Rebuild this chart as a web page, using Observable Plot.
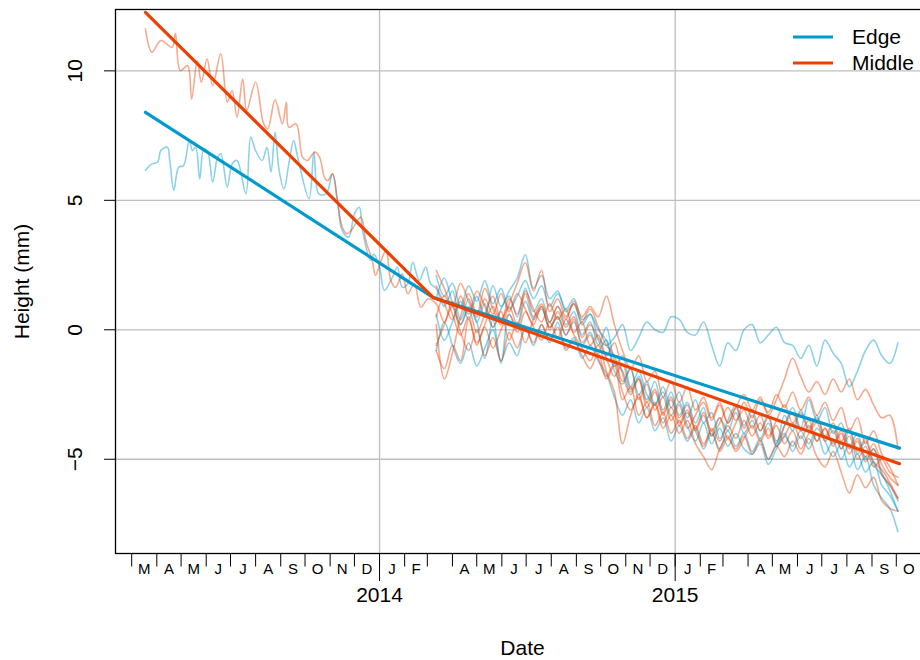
<!DOCTYPE html>
<html><head><meta charset="utf-8">
<script src="https://cdn.jsdelivr.net/npm/d3@7"></script>
<script src="https://cdn.jsdelivr.net/npm/@observablehq/plot@0.6"></script>
<style>
html,body{margin:0;padding:0;overflow:hidden;background:#fff;}
#chart{width:920px;height:660px;overflow:hidden;}
#chart svg{max-width:none !important;}
</style></head><body><div id="chart"></div>
<script>
const FONT = '"Liberation Sans", Arial, Helvetica, sans-serif';
const BLUE = "#009ACD", RED = "#EE4000";

// Days are counted from 2014-01-01
const yTicks = [-5, 0, 5, 10];
const yearLabels = ["2014", "2015"];
const monthLetters = ["M","A","M","J","J","A","S","O","N","D",
  "J","F","","A","M","J","J","A","S","O","N","D",
  "J","F","","A","M","J","J","A","S","O"];
const groups = ["Edge", "Middle"];

// Long series, 2013 part (read at peaks and troughs)
const edgeEarlyDays = [-289,-281,-274,-270,-262,-259,-254,-248,-242,-235,-231,-227,-222,-217,-212,-206,-200,-196,-188,-182,-176,-165,-159,-153,-145,-139,-134,-129,-124,-118,-112,-106,-101,-87,-81,-75,-66,-58,-52,-46,-38,-31,-25,-21,-11,-7,0,6,16,22,28,35,41,49,57,63];
const edgeEarlyValues = [6.16,6.41,6.47,6.92,7.05,6.54,5.38,6.28,6.34,7.31,6.92,7.05,5.83,6.99,6.86,5.70,6.66,6.80,5.51,6.41,6.54,5.25,7.44,6.92,6.54,7.05,6.09,7.63,6.15,5.44,6.41,7.31,6.66,5.06,6.86,5.25,5.25,6.02,4.99,3.83,3.58,4.48,4.73,3.83,2.68,2.93,2.42,1.52,2.03,2.42,1.64,1.78,2.61,1.90,2.42,1.78];
const middleEarlyDays = [-289,-281,-270,-256,-252,-246,-237,-232,-225,-220,-213,-206,-196,-188,-182,-176,-169,-164,-153,-143,-138,-129,-120,-115,-112,-103,-95,-89,-80,-74,-68,-64,-58,-52,-46,-40,-35,-23,-17,-9,-5,2,8,14,20,28,35,43,51,60];
const middleEarlyValues = [11.62,10.72,11.17,10.91,11.45,10.01,10.2,8.92,10.4,9.56,10.46,9.43,10.66,8.79,9.24,8.21,9.69,8.47,9.56,7.95,7.76,8.88,7.95,8.79,7.82,7.95,6.66,6.54,6.86,6.66,5.89,5.76,6.02,4.99,3.96,3.71,3.83,4.35,3.45,2.68,2.10,2.68,3.06,1.9,1.64,2.16,1.39,1.78,0.87,1.2];

// From March 2014, every 10 days
const lateDays = [70,80,90,100,110,120,130,140,150,160,170,180,190,200,210,220,230,240,250,260,270,280,290,300,310,320,330,340,350,360,370,380,390,400,410,420,430,440,450,460,470,480,490,500,510,520,530,540,550,560,570,580,590,600,610,620,630,640];

const edge1Late = [1.6,0.9,1.5,0.4,1.2,0.3,1.0,0.1,0.8,1.3, 0.5,1.6,0.7,1.2,0.3,0.9,0.2,0.7,-0.2,0.3, -0.6,0.1,-1.2,-1.6,-2.4,-1.8,-2.7,-2.0,-3.1,-2.4, -3.3,-2.8,-3.6,-3.0,-4.1,-3.4,-3.9,-3.2,-4.0,-3.5, -4.2,-3.6,-4.4,-3.3,-3.9,-3.1,-3.8,-3.3,-4.2,-3.7, -4.6,-3.9,-4.8,-4.3,-5.2,-5.6,-6.0,-6.6];
const edge2Late = [2.1,1.3,1.8,0.9,1.7,1.1,1.9,1.0,1.6,0.8, 1.3,1.9,1.2,1.7,0.9,1.4,0.8,1.2,0.4,0.6, -0.3,-0.6,-0.3,0.2,-0.8,-0.3,0.3,0.0,-0.1,0.5, 0.4,-0.1,-0.2,0.3,-0.6,-1.4,-0.5,-0.8,0.0,0.2, -0.5,-0.2,0.1,-0.5,-0.6,-1.1,-0.6,-1.4,-0.4,-0.9, -1.3,-2.2,-1.6,-0.8,-0.4,-1.0,-1.3,-0.5];
const edge3Late = [0.6,-0.4,0.3,1.1,0.4,1.3,0.5,1.7,0.9,1.5, 2.0,2.9,1.6,2.1,1.2,1.5,0.7,1.0,0.2,0.6, 0.0,-0.4,-1.4,-1.0,-2.2,-1.6,-2.5,-2.9,-2.2,-3.0, -2.4,-3.4,-2.7,-3.6,-3.2,-4.2,-3.5,-2.9,-3.7,-3.1, -3.9,-3.3,-4.5,-3.7,-3.0,-3.8,-2.7,-3.5,-3.0,-4.0, -3.6,-4.5,-4.0,-5.0,-4.6,-5.5,-6.2,-7.0];
const edge4Late = [-0.8,0.3,-0.6,-1.3,-0.5,-1.4,-0.7,0.0,-1.2,-0.5, -1.0,0.1,-0.6,0.2,-0.5,0.3,-0.7,-0.3,-1.1,-0.6, -1.2,-1.7,-2.6,-3.3,-2.7,-3.6,-3.0,-3.9,-3.4,-4.3, -3.7,-4.3,-3.8,-4.6,-4.0,-4.6,-3.9,-4.5,-4.0,-4.7, -4.2,-5.0,-4.4,-4.0,-4.7,-4.1,-4.6,-4.0,-4.8,-4.3, -5.0,-4.4,-5.4,-4.9,-6.0,-6.5,-6.9,-7.8];
const edge5Late = [1.2,2.0,1.0,0.2,0.9,0.3,-1.1,0.4,-1.3,0.6, 0.1,1.1,0.4,0.8,0.1,0.5,-0.2,0.3,-0.5,-0.1, -0.8,-0.4,-1.6,-2.1,-1.5,-2.5,-2.0,-2.9,-2.4,-3.3, -2.8,-3.7,-4.3,-3.6,-4.4,-3.8,-4.5,-4.0,-4.6,-4.8, -4.4,-5.2,-4.6,-4.1,-4.5,-3.9,-4.4,-3.8,-4.3,-4.9, -4.4,-5.3,-4.8,-5.5,-5.1,-6.0,-6.4,-7.0];

const middle1Late = [1.0,0.3,1.1,0.2,0.8,-0.1,0.6,1.3,0.4,0.9, 0.2,1.4,0.5,0.9,0.0,0.7,0.1,0.5,-0.3,0.2, -0.4,-1.1,-1.8,-1.3,-2.3,-1.9,-2.8,-2.3,-3.2,-2.6, -3.4,-2.9,-3.8,-3.2,-3.9,-3.4,-4.2,-3.6,-3.1,-3.8, -3.3,-4.1,-3.5,-2.9,-3.6,-3.2,-3.9,-3.4,-4.1,-3.6, -4.3,-3.8,-4.7,-4.2,-5.1,-5.4,-5.9,-6.5];
const middle2Late = [-0.8,-1.5,-0.6,-1.2,0.4,-0.5,0.2,0.9,0.3,1.2, 0.6,1.5,0.8,0.3,1.0,0.4,0.8,-0.1,0.3,-0.6, -0.2,-1.0,-0.5,-1.7,-2.5,-1.9,-3.0,-2.4,-3.3,-2.7, -3.6,-3.1,-3.9,-3.3,-4.1,-3.6,-3.0,-3.5,-2.8,-3.4, -2.7,-3.2,-2.5,-3.0,-2.4,-3.1,-2.6,-3.3,-2.8,-3.5, -3.0,-3.9,-3.4,-4.4,-3.9,-4.8,-5.3,-6.0];
const middle3Late = [0.2,-1.9,-0.9,0.5,1.4,0.6,1.6,0.8,0.2,1.0, 1.8,2.6,1.5,2.3,0.7,1.2,0.5,1.0,0.3,0.8, 0.1,-0.6,-1.0,-2.0,-1.5,-2.7,-2.1,-3.1,-2.6,-3.5, -2.9,-3.8,-3.3,-2.8,-3.5,-2.9,-3.6,-3.0,-3.8,-3.3, -3.9,-3.4,-4.3,-3.7,-3.2,-3.9,-3.5,-4.3,-3.8,-4.5, -4.0,-4.8,-4.3,-5.1,-4.6,-5.6,-6.0,-6.5];
const middle4Late = [1.7,1.0,0.4,1.3,0.6,1.5,0.9,0.1,0.7,-0.4, 0.3,-0.5,0.4,1.0,0.3,0.9,0.4,1.1,0.5,0.9, 0.5,1.3,0.2,-0.8,-1.5,-1.0,-2.0,-1.6,-2.6,-2.0, -2.8,-2.2,-3.1,-2.6,-3.4,-2.8,-3.6,-3.0,-2.5,-3.1, -2.6,-3.3,-2.7,-1.9,-1.1,-1.8,-2.4,-2.0,-2.5,-1.9, -2.4,-1.9,-2.7,-2.3,-2.9,-3.4,-3.3,-4.6];
const middle5Late = [0.5,1.3,0.6,-0.2,0.5,-0.6,0.1,-0.7,0.0,0.6, -0.1,0.7,0.1,-0.4,0.3,-0.3,0.4,-0.2,-0.7,-1.2, -0.6,-1.6,-2.4,-4.4,-3.3,-2.6,-3.4,-2.8,-3.6,-3.0, -3.7,-3.2,-3.9,-4.5,-3.8,-4.3,-3.7,-4.2,-3.5,-4.1, -3.6,-4.2,-3.7,-4.4,-3.9,-4.6,-4.0,-3.6,-4.3,-3.9, -4.6,-4.1,-5.0,-4.5,-5.3,-5.0,-5.5,-5.7];
const middle6Late = [2.3,1.6,0.9,1.8,1.1,0.5,1.2,0.6,1.4,0.7, 1.4,0.8,0.2,0.9,0.1,0.5,-0.2,0.4,-0.6,-0.2, -1.1,-1.8,-1.3,-2.4,-3.1,-2.5,-3.4,-2.9,-3.8,-3.3, -4.0,-3.5,-4.4,-4.9,-5.4,-4.6,-4.1,-4.7,-4.2,-3.7, -4.3,-3.8,-4.5,-4.1,-3.6,-4.2,-3.7,-4.3,-3.8,-4.4, -3.9,-4.6,-4.2,-4.9,-4.4,-5.2,-5.7,-6.0];
const middle7Late = [-0.6,0.2,0.9,-0.1,-0.8,0.0,-1.0,-0.3,-1.2,-0.1, -0.7,0.1,-0.5,0.2,-0.4,0.1,-0.8,-0.4,-1.0,-1.5, -0.9,-1.9,-1.4,-2.7,-2.2,-3.3,-2.8,-3.7,-3.2,-4.0, -3.5,-4.2,-3.7,-4.4,-3.9,-4.7,-4.2,-4.6,-4.1,-4.8, -4.3,-5.0,-4.5,-4.9,-4.3,-4.8,-4.2,-4.9,-5.3,-4.7, -5.5,-6.3,-5.6,-6.1,-5.7,-6.6,-6.9,-7.0];

// Fitted piecewise trend lines
const trendDays = [-289, 66, 642];
const edgeTrend = [8.40, 1.25, -4.57];
const middleTrend = [12.26, 1.25, -5.17];

const day0 = Date.UTC(2014, 0, 1);
const toDate = d => new Date(day0 + d * 864e5);
const mk = (series, group, days, values) => days.map((d, i) => ({series, group, date: toDate(d), value: values[i]}));

const thin = [
  ...mk("E1", "Edge", edgeEarlyDays.concat(lateDays), edgeEarlyValues.concat(edge1Late)),
  ...mk("M1", "Middle", middleEarlyDays.concat(lateDays), middleEarlyValues.concat(middle1Late)),
  ...mk("E2", "Edge", lateDays, edge2Late),
  ...mk("M2", "Middle", lateDays, middle2Late),
  ...mk("E3", "Edge", lateDays, edge3Late),
  ...mk("M3", "Middle", lateDays, middle3Late),
  ...mk("E4", "Edge", lateDays, edge4Late),
  ...mk("M4", "Middle", lateDays, middle4Late),
  ...mk("E5", "Edge", lateDays, edge5Late),
  ...mk("M5", "Middle", lateDays, middle5Late),
  ...mk("M6", "Middle", lateDays, middle6Late),
  ...mk("M7", "Middle", lateDays, middle7Late)
];
const trend = [...mk("Edge", "Edge", trendDays, edgeTrend), ...mk("Middle", "Middle", trendDays, middleTrend)];

const monthStarts = d3.utcMonth.range(new Date(Date.UTC(2013, 2, 1)), new Date(Date.UTC(2015, 10, 2)));
const monthLabelData = monthLetters.map((label, i) => ({label, date: new Date((+monthStarts[i] + +monthStarts[i + 1]) / 2)}));
const yearDates = [new Date(Date.UTC(2014, 0, 1)), new Date(Date.UTC(2015, 0, 1))];
const yearLabelData = yearLabels.map((label, i) => ({label, date: yearDates[i]}));

const T = {fill: "#000", textAnchor: "middle", lineAnchor: "middle"};

const plot = Plot.plot({
  width: 940, height: 660,
  marginLeft: 115, marginRight: 11, marginTop: 9, marginBottom: 107,
  style: {fontFamily: FONT, background: "#fff", overflow: "hidden", color: "#000", maxWidth: "none"},
  x: {type: "utc", domain: [toDate(-326), toDate(679)]},
  y: {domain: [-8.64, 12.37]},
  color: {domain: groups, range: [BLUE, RED]},
  marks: [
    Plot.gridY(yTicks, {stroke: "#bebebe", strokeOpacity: 1, strokeWidth: 1.3}),
    Plot.gridX(yearDates, {stroke: "#bebebe", strokeOpacity: 1, strokeWidth: 1.3}),
    Plot.line(thin, {x: "date", y: "value", z: "series", stroke: "group", strokeOpacity: 0.45, strokeWidth: 1.6, curve: "catmull-rom"}),
    Plot.line(trend, {x: "date", y: "value", z: "series", stroke: "group", strokeWidth: 3.2}),
    Plot.frame({stroke: "#000", strokeWidth: 1.3}),
    Plot.axisY({ticks: yTicks, tickSize: 11, tickFormat: () => "", label: null}),
    Plot.text(yTicks, {...T, frameAnchor: "left", y: d => d, text: d => d < 0 ? "\u2212" + (-d) : String(d), dx: -40, rotate: -90, fontSize: 21}),
    Plot.text(["Height (mm)"], {...T, frameAnchor: "left", dx: -93, rotate: -90, fontSize: 21}),
    Plot.axisX({ticks: monthStarts, tickSize: 13.5, tickFormat: () => "", label: null}),
    Plot.axisX({ticks: yearDates, tickSize: 28, tickFormat: () => "", label: null}),
    Plot.text(monthLabelData, {...T, x: "date", text: "label", frameAnchor: "bottom", dy: 16, fontSize: 15}),
    Plot.text(yearLabelData, {...T, x: "date", text: "label", frameAnchor: "bottom", dy: 41.5, fontSize: 21}),
    Plot.text(["Date"], {...T, frameAnchor: "bottom", dy: 95, fontSize: 21})
  ]
});
plot.style.maxWidth = "none";
plot.style.width = "940px";
plot.style.height = "660px";

const svg = d3.select(plot);
const lg = svg.append("g").attr("font-family", FONT).attr("font-size", 21).attr("text-anchor", "start");
[["Edge", BLUE, 37], ["Middle", RED, 63]].forEach(([t, c, y]) => {
  lg.append("line").attr("x1", 793).attr("x2", 833).attr("y1", y).attr("y2", y).attr("stroke", c).attr("stroke-width", 3.2);
  lg.append("text").attr("x", 852).attr("y", y).attr("dy", "0.35em").attr("fill", "#000").text(t);
});
document.getElementById("chart").appendChild(plot);
</script></body></html>
